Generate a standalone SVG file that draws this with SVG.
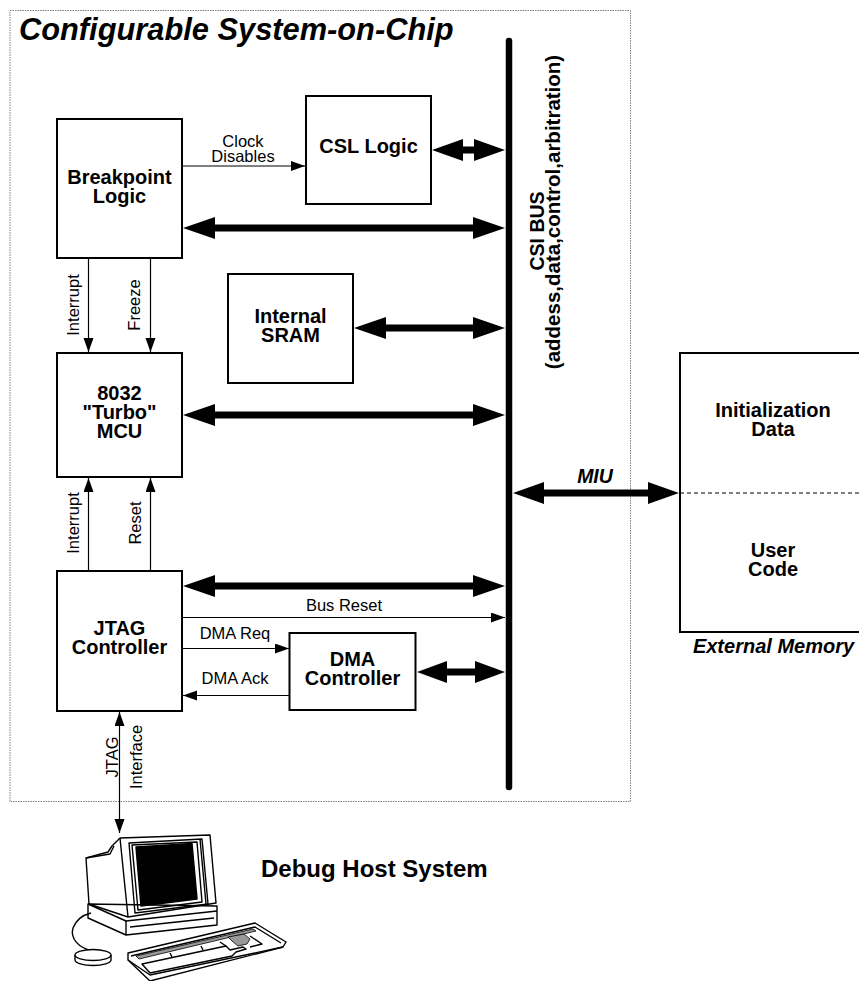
<svg xmlns="http://www.w3.org/2000/svg" width="859" height="981" viewBox="0 0 859 981">
  <defs>
    <style>
      .box { fill: #fff; stroke: #000; stroke-width: 2; }
      .lbl { font-family: "Liberation Sans", Arial, sans-serif; font-weight: bold; font-size: 20px; text-anchor: middle; fill: #000; }
      .lbli { font-family: "Liberation Sans", Arial, sans-serif; font-weight: bold; font-style: italic; fill: #000; }
      .sig { font-family: "Liberation Sans", Arial, sans-serif; font-size: 16.5px; text-anchor: middle; fill: #000; }
      .thin { fill: none; stroke: #000; stroke-width: 1.2; marker-end: url(#tip); }
      .both { marker-start: url(#tip); }
      .fat { fill: #000; stroke: none; }
      .ln { fill: none; stroke: #000; stroke-width: 1.4; stroke-linejoin: round; }
    </style>
    <marker id="tip" markerUnits="userSpaceOnUse" markerWidth="15" markerHeight="11" refX="14" refY="5" orient="auto-start-reverse">
      <path d="M0,0 L14,5 L0,10 z" fill="#000"/>
    </marker>
  </defs>

  <rect width="859" height="981" fill="#fff"/>

  <!-- chip boundary -->
  <rect x="10" y="10.5" width="620.5" height="791" fill="none" stroke="#808080" stroke-width="1" stroke-dasharray="1.5 1"/>
  <text class="lbli" x="19" y="40" font-size="30.8">Configurable System-on-Chip</text>

  <!-- CSI bus -->
  <g id="csi-bus">
    <line x1="509" y1="41" x2="509" y2="787" stroke="#000" stroke-width="6.5" stroke-linecap="round"/>
    <text class="lbl" style="font-size:19.5px" transform="translate(544,231) rotate(-90)">CSI BUS</text>
    <text class="lbl" style="font-size:20.5px" transform="translate(560,212) rotate(-90)">(addess,data,control,arbitration)</text>
  </g>

  <g id="breakpoint-logic">
    <rect class="box" x="57" y="119" width="125" height="139"/>
    <text class="lbl" x="119.5" y="184">Breakpoint</text>
    <text class="lbl" x="119.5" y="203">Logic</text>
  </g>

  <g id="csl-logic">
    <rect class="box" x="306" y="96" width="125" height="108"/>
    <text class="lbl" x="368.5" y="153">CSL Logic</text>
  </g>

  <g id="internal-sram">
    <rect class="box" x="228" y="274" width="125" height="109"/>
    <text class="lbl" x="290.5" y="323">Internal</text>
    <text class="lbl" x="290.5" y="342">SRAM</text>
  </g>

  <g id="mcu">
    <rect class="box" x="57" y="353" width="125" height="124"/>
    <text class="lbl" x="119.5" y="400">8032</text>
    <text class="lbl" x="119.5" y="419">"Turbo"</text>
    <text class="lbl" x="119.5" y="438">MCU</text>
  </g>

  <g id="jtag-controller">
    <rect class="box" x="57" y="571" width="125" height="140"/>
    <text class="lbl" x="119.5" y="635">JTAG</text>
    <text class="lbl" x="119.5" y="654">Controller</text>
  </g>

  <g id="dma-controller">
    <rect class="box" x="289.5" y="633" width="126" height="77"/>
    <text class="lbl" x="352.5" y="666">DMA</text>
    <text class="lbl" x="352.5" y="685">Controller</text>
  </g>

  <g id="external-memory">
    <rect class="box" x="680" y="353" width="200" height="279"/>
    <line x1="680" y1="493" x2="859" y2="493" stroke="#000" stroke-width="1" stroke-dasharray="4 3"/>
    <text class="lbl" x="773" y="417">Initialization</text>
    <text class="lbl" x="773" y="436">Data</text>
    <text class="lbl" x="773" y="557">User</text>
    <text class="lbl" x="773" y="576">Code</text>
    <text class="lbli" x="773.5" y="653" font-size="20" text-anchor="middle">External Memory</text>
  </g>

  <!-- connectors -->
  <g id="connectors">
    <!-- bus ports: wide double-headed arrows -->
    <path class="fat" d="M432,150 L463,139 L463,146.5 L474,146.5 L474,139 L505,150 L474,161 L474,153.5 L463,153.5 L463,161 Z"/>
    <path class="fat" d="M183,228 L215,217 L215,224.5 L473,224.5 L473,217 L505,228 L473,239 L473,231.5 L215,231.5 L215,239 Z"/>
    <path class="fat" d="M354,328 L386,317 L386,324.5 L473,324.5 L473,317 L505,328 L473,339 L473,331.5 L386,331.5 L386,339 Z"/>
    <path class="fat" d="M183,415 L215,404 L215,411.5 L473,411.5 L473,404 L505,415 L473,426 L473,418.5 L215,418.5 L215,426 Z"/>
    <path class="fat" d="M183,586 L215,575 L215,582.5 L473,582.5 L473,575 L505,586 L473,597 L473,589.5 L215,589.5 L215,597 Z"/>
    <path class="fat" d="M417,672 L447,661 L447,668.5 L475,668.5 L475,661 L505,672 L475,683 L475,675.5 L447,675.5 L447,683 Z"/>
    <path class="fat" d="M513,493 L544,482 L544,489.5 L648,489.5 L648,482 L679,493 L648,504 L648,496.5 L544,496.5 L544,504 Z"/>
    <text class="lbli" x="595" y="483" font-size="19.5" text-anchor="middle">MIU</text>

    <!-- control signals -->
    <line class="thin" x1="182" y1="166" x2="305" y2="166"/>
    <text class="sig" x="243" y="147">Clock</text>
    <text class="sig" x="243" y="162">Disables</text>

    <line class="thin" x1="88.5" y1="259" x2="88.5" y2="352"/>
    <line class="thin" x1="150.5" y1="259" x2="150.5" y2="352"/>
    <text class="sig" transform="translate(79,305) rotate(-90)">Interrupt</text>
    <text class="sig" transform="translate(140,305) rotate(-90)">Freeze</text>

    <line class="thin" x1="88.5" y1="570" x2="88.5" y2="478"/>
    <line class="thin" x1="150.5" y1="570" x2="150.5" y2="478"/>
    <text class="sig" transform="translate(79,523) rotate(-90)">Interrupt</text>
    <text class="sig" transform="translate(141,523) rotate(-90)">Reset</text>

    <line class="thin" x1="182" y1="617.5" x2="505" y2="617.5"/>
    <text class="sig" x="344" y="611">Bus Reset</text>

    <line class="thin" x1="182" y1="648.5" x2="289" y2="648.5"/>
    <text class="sig" x="235" y="639">DMA Req</text>

    <line class="thin" x1="289" y1="695.5" x2="183" y2="695.5"/>
    <text class="sig" x="235" y="684">DMA Ack</text>

    <line class="thin both" x1="119.5" y1="712" x2="119.5" y2="833"/>
    <text class="sig" transform="translate(117.5,757) rotate(-90)">JTAG</text>
    <text class="sig" transform="translate(141.5,757) rotate(-90)">Interface</text>
  </g>

  <!-- debug host workstation -->
  <g id="debug-host">
    <text class="lbl" x="261" y="877" style="font-size:24px;text-anchor:start">Debug Host System</text>
    <!-- mouse cable -->
    <path class="ln" d="M93,951 C78,948 70,938 73,928 C76,920 83,915 91,913"/>
    <!-- mouse -->
    <path d="M75,955 L75,960 A18,5.5 0 0 0 111,960 L111,955" fill="#fff" stroke="#000" stroke-width="1.4"/>
    <ellipse cx="93" cy="955" rx="18" ry="5.5" fill="#fff" stroke="#000" stroke-width="1.4"/>
    <!-- base -->
    <path class="ln" d="M88,904 L88,918 L126,935 L217,925 L217,906 Z" fill="#fff"/>
    <path class="ln" d="M88,904 L126,921 L217,911"/>
    <line x1="126" y1="921" x2="126" y2="935" stroke="#000" stroke-width="1.4"/>
    <path class="ln" d="M130,927 L214,918"/>
    <!-- monitor housing -->
    <path class="ln" fill="#fff" d="M86,858 L108,852 L112,846 L120,838 L210,835 L216,903 L128,917 L89,904 Z"/>
    <path class="ln" d="M120,838 L128,917"/>
    <path class="ln" d="M86,858 L110,854 L114,846"/>
    <!-- bezel -->
    <path class="ln" d="M129,843 L202,839 L208,904 L135,913 Z"/>
    <path class="ln" d="M200,839 L206,904"/>
    <path class="ln" d="M132,845 L197,842 L202,902 L138,910 Z"/>
    <!-- screen -->
    <path d="M136,847 L192,843.5 L197,899 L141,906 Z" fill="#000" stroke="#000" stroke-width="1.5" stroke-linejoin="round"/>
    <!-- keyboard -->
    <path class="ln" fill="#fff" stroke-width="1.8" d="M128,953 L255,923 L286,942 L283,947 L150,981 L128,960 Z"/>
    <path class="ln" d="M131,956 L255,927 L281,943"/>
    <path class="ln" d="M128,960 L150,975 L283,947"/>
    <!-- key rows -->
    <path d="M136,956 L253,929 L256,931 L139,959 Z" fill="#999" stroke="#000" stroke-width="0.8"/>
    <path d="M228,937 L244,934 L250,939 L247,944 L238,946 L232,941 Z" fill="#999" stroke="#000" stroke-width="0.8"/>
    <path class="ln" stroke-width="1" d="M142,964 L226,946 L230,950 L243,947 L246,949 L236,952 L232,956 L150,973 Z"/>
    <path class="ln" stroke-width="0.8" d="M170,953 L172,957 M201,946 L203,950 M220,942 L226,946 M250,936 L262,944 L250,947"/>
  </g>
</svg>
